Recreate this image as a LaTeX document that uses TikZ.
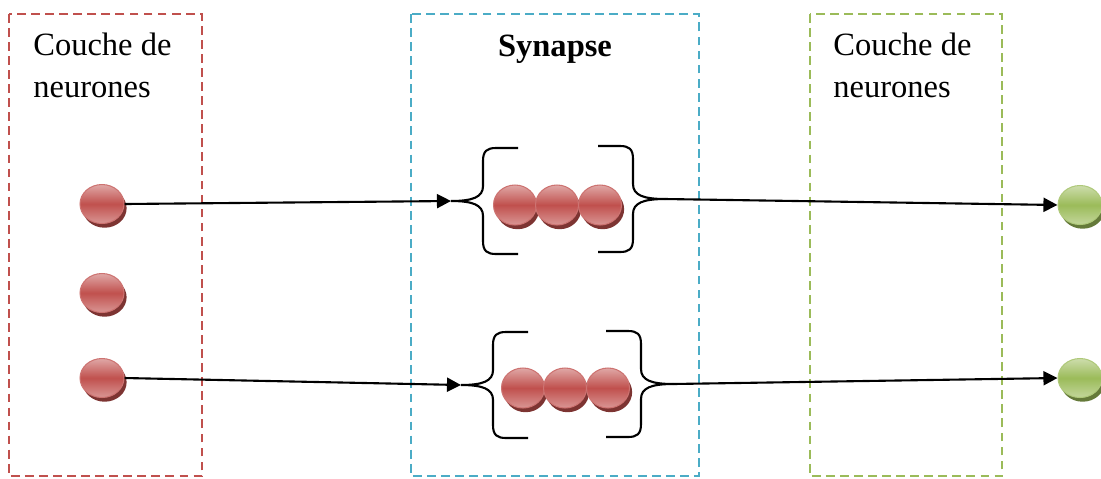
\documentclass[tikz,border=0pt]{standalone}
\usepackage{fontspec}
\setmainfont{Liberation Serif}
\usetikzlibrary{shapes.geometric,shadows,arrows.meta}

\definecolor{couchered}{HTML}{C0504D}
\definecolor{synbleu}{HTML}{4BACC6}
\definecolor{couchevert}{HTML}{9BBB59}

\tikzset{
    cadre/.style={line width=1.4pt, dash pattern=on 5pt off 3pt},
    titre/.style={inner sep=0, align=left, font=\fontsize{18.5}{23.5}\selectfont},
    neuron/.style={ellipse, minimum width=0.88cm, minimum height=0.78cm, inner sep=0,
        draw=#1!80!white, line width=0.6pt,
        top color=#1!50!white, bottom color=#1!60!white, middle color=#1,
        general shadow={fill=#1!65!black, shadow xshift=1.5pt, shadow yshift=-2.4pt}},
    bille/.style={neuron=#1, minimum width=0.86cm, minimum height=0.80cm},
    fleche/.style={-{Triangle[length=8pt,width=8pt]}, line width=1.2pt},
    synbrace/.pic={
        \coordinate (-tip) at (0,0);
        \draw[line width=1.2pt] (67,-53) -- (45,-53) .. controls (36,-53) and (32,-50) .. (32,-40)
            -- (32,-15) .. controls (32,-4) and (22,0) .. (0,0)
            .. controls (22,0) and (32,4) .. (32,15) -- (32,40)
            .. controls (32,50) and (36,53) .. (45,53) -- (67,53);
    }
}

\begin{document}
\begin{tikzpicture}[x=0.02cm, y=-0.02cm]
    \useasboundingbox (0,0) rectangle (1101,478);

    % les trois cadres
    \draw[cadre, draw=couchered] (9,14) rectangle (202,476);
    \draw[cadre, draw=synbleu] (411,14) rectangle (699,476);
    \draw[cadre, draw=couchevert] (810,14) rectangle (1002,476);

    \node[titre, anchor=base west] (entree) at (33,97) {Couche de\\neurones};
    \node[titre, anchor=base] (synapse) at (555,56) {\textbf{Synapse}};
    \node[titre, anchor=base west] (sortie) at (833,97) {Couche de\\neurones};

    % neurones
    \node[neuron=couchered] (n1) at (102,204) {};
    \node[neuron=couchered] (n2) at (102,293) {};
    \node[neuron=couchered] (n3) at (102,378) {};
    \node[neuron=couchevert] (g1) at (1080,205) {};
    \node[neuron=couchevert] (g2) at (1080,378) {};

    % synapses
    \pic (b1) at (451,201) {synbrace};
    \pic[xscale=-1] (b2) at (665,199) {synbrace};
    \foreach \x [count=\i] in {515,557,600}
        \node[bille=couchered] (s\i) at (\x,205) {};

    \pic (b3) at (461,385) {synbrace};
    \pic[xscale=-1] (b4) at (673,384) {synbrace};
    \foreach \x [count=\i] in {523,565,608}
        \node[bille=couchered] (r\i) at (\x,388) {};

    \draw[fleche] (n1.east) -- (b1-tip);
    \draw[fleche] (b2-tip) -- (g1.west);
    \draw[fleche] (n3.east) -- (b3-tip);
    \draw[fleche] (b4-tip) -- (g2.west);
\end{tikzpicture}
\end{document}
